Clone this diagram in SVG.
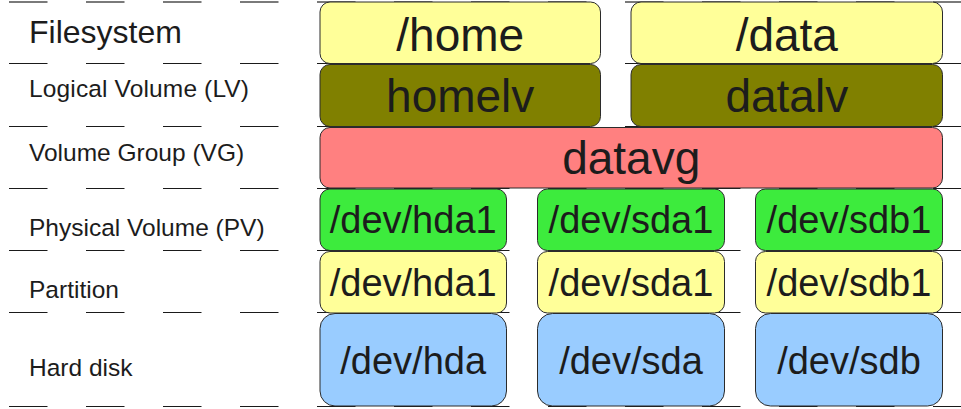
<svg xmlns="http://www.w3.org/2000/svg" width="961" height="409" viewBox="0 0 961 409">
<style>
.bg{fill:#ffffff}
.dash{stroke:#1a1a1a;stroke-width:1;stroke-dasharray:38.5 38.5;fill:none}
.dash0{stroke:#7a7a7a;stroke-width:2;stroke-dasharray:38.5 38.5;fill:none}
.box{stroke:#2b2b2b;stroke-width:1}
.yel{fill:#ffff99}
.olive{fill:#808000}
.red{fill:#ff8080}
.green{fill:#3deb3d}
.blue{fill:#99ccff}
.lbl{font-family:"Liberation Sans",Arial,sans-serif;font-size:24.5px;fill:#1c1c1c}
.big{font-family:"Liberation Sans",Arial,sans-serif;font-size:46px;fill:#1c1c1c;text-anchor:middle}
.mid{font-family:"Liberation Sans",Arial,sans-serif;font-size:38px;fill:#1c1c1c;text-anchor:middle}
</style>
<rect class="bg" x="0" y="0" width="961" height="409"/>
<g id="connectors">
<line class="dash0" x1="9" y1="2" x2="961" y2="2"/>
<line class="dash" x1="9" y1="63.5" x2="961" y2="63.5"/>
<line class="dash" x1="9" y1="126.5" x2="961" y2="126.5"/>
<line class="dash" x1="9" y1="188.5" x2="961" y2="188.5"/>
<line class="dash" x1="9" y1="250.5" x2="961" y2="250.5"/>
<line class="dash" x1="9" y1="312.5" x2="961" y2="312.5"/>
<line class="dash" x1="9" y1="406.5" x2="961" y2="406.5"/>
</g>
<g id="labels">
<text class="lbl" x="29" y="42.7" style="font-size:32px">Filesystem</text>
<text class="lbl" x="29" y="96.7" textLength="220" lengthAdjust="spacing">Logical Volume (LV)</text>
<text class="lbl" x="29" y="160.7">Volume Group (VG)</text>
<text class="lbl" x="29" y="236">Physical Volume (PV)</text>
<text class="lbl" x="29" y="298.3">Partition</text>
<text class="lbl" x="29" y="375.7">Hard disk</text>
</g>
<g id="fs-home"><rect class="box yel" x="320" y="2" width="280.5" height="61.5" rx="10"/><text class="big" x="460.2" y="50.7">/home</text></g>
<g id="fs-data"><rect class="box yel" x="631" y="2" width="311.5" height="61.5" rx="10"/><text class="big" x="786.8" y="50.7">/data</text></g>
<g id="lv-home"><rect class="box olive" x="320" y="64.5" width="280.5" height="62" rx="10"/><text class="big" x="460.2" y="112.3">homelv</text></g>
<g id="lv-data"><rect class="box olive" x="631" y="64.5" width="311.5" height="62" rx="10"/><text class="big" x="786.8" y="112.3">datalv</text></g>
<g id="vg"><rect class="box red" x="320" y="127.5" width="622.5" height="60.5" rx="10"/><text class="big" x="631.2" y="174">datavg</text></g>
<g id="pv-hda1"><rect class="box green" x="320" y="189" width="186.5" height="61.5" rx="10"/><text class="mid" x="413.2" y="233">/dev/hda1</text></g>
<g id="pv-sda1"><rect class="box green" x="537.5" y="189" width="187" height="61.5" rx="10"/><text class="mid" x="631" y="233">/dev/sda1</text></g>
<g id="pv-sdb1"><rect class="box green" x="755.5" y="189" width="187" height="61.5" rx="10"/><text class="mid" x="849" y="233">/dev/sdb1</text></g>
<g id="part-hda1"><rect class="box yel" x="320" y="251.5" width="186.5" height="61.5" rx="10"/><text class="mid" x="413.2" y="296.3">/dev/hda1</text></g>
<g id="part-sda1"><rect class="box yel" x="537.5" y="251.5" width="187" height="61.5" rx="10"/><text class="mid" x="631" y="296.3">/dev/sda1</text></g>
<g id="part-sdb1"><rect class="box yel" x="755.5" y="251.5" width="187" height="61.5" rx="10"/><text class="mid" x="849" y="296.3">/dev/sdb1</text></g>
<g id="disk-hda"><rect class="box blue" x="320" y="313.5" width="186.5" height="92.5" rx="15"/><text class="mid" x="413.2" y="374.3">/dev/hda</text></g>
<g id="disk-sda"><rect class="box blue" x="537.5" y="313.5" width="187" height="92.5" rx="15"/><text class="mid" x="631" y="374.3">/dev/sda</text></g>
<g id="disk-sdb"><rect class="box blue" x="755.5" y="313.5" width="187" height="92.5" rx="15"/><text class="mid" x="849" y="374.3">/dev/sdb</text></g>
</svg>
